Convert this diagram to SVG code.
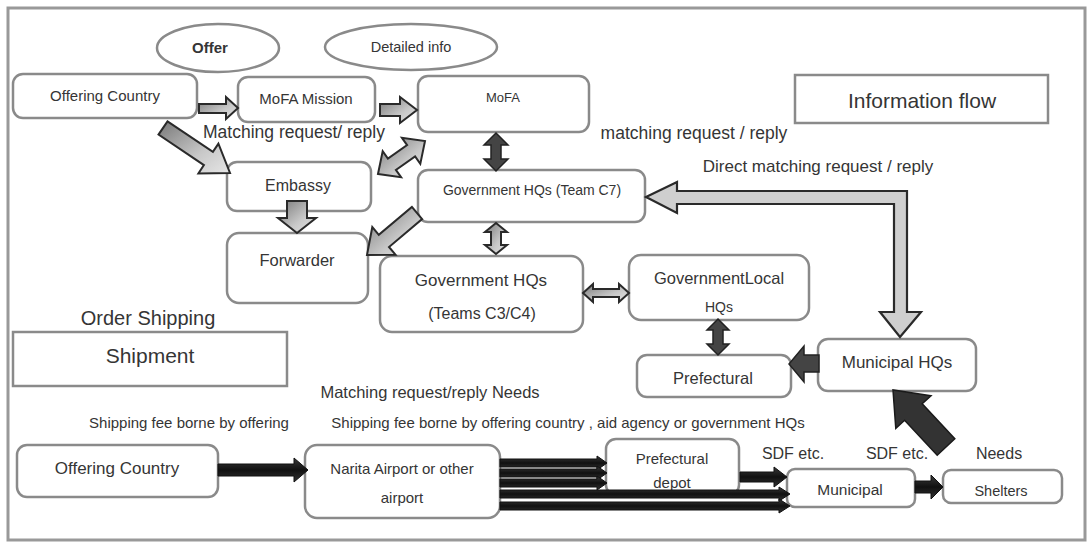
<svg xmlns="http://www.w3.org/2000/svg" width="1089" height="549" viewBox="0 0 1089 549">
<defs>
<linearGradient id="gA" x1="0" y1="0" x2="1" y2="1">
<stop offset="0" stop-color="#777"/>
<stop offset="0.6" stop-color="#c8c8c8"/>
<stop offset="1" stop-color="#e6e6e6"/>
</linearGradient>
<linearGradient id="gD" x1="0" y1="0" x2="0" y2="1">
<stop offset="0" stop-color="#3a3a3a"/>
<stop offset="0.5" stop-color="#111"/>
<stop offset="1" stop-color="#333"/>
</linearGradient>
<style>
.box{fill:#fff;stroke:#8a8a8a;stroke-width:2.5}
.t{font-family:"Liberation Sans",Arial,sans-serif;fill:#353535;text-anchor:middle;dominant-baseline:central}
.ga{fill:url(#gA);stroke:#2a2a2a;stroke-width:2;stroke-linejoin:miter}
.gl{fill:#cfcfcf;stroke:#2a2a2a;stroke-width:2.2}
.dk{fill:#444;stroke:#222;stroke-width:1.5}
.bk{fill:url(#gD);stroke:#111;stroke-width:1}
</style>
</defs>
<rect x="0" y="0" width="1089" height="549" fill="#fff"/>
<rect x="8" y="8" width="1077" height="532" fill="none" stroke="#999" stroke-width="3"/>

<g id="offer-ellipse"><ellipse cx="218" cy="48" rx="61" ry="24" fill="#fff" stroke="#8a8a8a" stroke-width="2.5"/><text class="t" x="210" y="47" font-size="15" font-weight="bold">Offer</text></g>
<g id="detailed-ellipse"><ellipse cx="411" cy="47" rx="86" ry="23" fill="#fff" stroke="#8a8a8a" stroke-width="2.5"/><text class="t" x="411" y="47" font-size="14.5">Detailed info</text></g>

<g id="offering-country"><rect class="box" x="13" y="74" width="184" height="44" rx="10"/><text class="t" x="105" y="95" font-size="15">Offering Country</text></g>
<g id="mofa-mission"><rect class="box" x="238" y="77" width="137" height="45" rx="10"/><text class="t" x="306" y="98" font-size="15">MoFA  Mission</text></g>
<g id="mofa"><rect class="box" x="418" y="76" width="171" height="56" rx="10"/><text class="t" x="503" y="97" font-size="13">MoFA</text></g>
<g id="information-flow"><rect class="box" x="795" y="75" width="253" height="48"/><text class="t" x="922" y="100" font-size="21">Information flow</text></g>
<g id="embassy"><rect class="box" x="227" y="162" width="144" height="49" rx="10"/><text class="t" x="298" y="185" font-size="16">Embassy</text></g>
<g id="forwarder"><rect class="box" x="227" y="233" width="141" height="70" rx="12"/><text class="t" x="297" y="260" font-size="16.5">Forwarder</text></g>
<g id="gov-hq-c7"><rect class="box" x="418" y="170" width="227" height="52" rx="10"/><text class="t" x="532" y="190" font-size="14">Government HQs (Team C7)</text></g>
<g id="gov-hq-c3c4"><rect class="box" x="380" y="256" width="203" height="76" rx="12"/><text class="t" x="481" y="280" font-size="17">Government HQs</text><text class="t" x="482" y="313" font-size="16">(Teams C3/C4)</text></g>
<g id="gov-local-hq"><rect class="box" x="629" y="255" width="180" height="65" rx="12"/><text class="t" x="719" y="278" font-size="16.5">GovernmentLocal</text><text class="t" x="719" y="307" font-size="14">HQs</text></g>
<g id="prefectural"><rect class="box" x="637" y="355" width="154" height="42" rx="10"/><text class="t" x="713" y="378" font-size="16.5">Prefectural</text></g>
<g id="municipal-hq"><rect class="box" x="818" y="339" width="158" height="52" rx="10"/><text class="t" x="897" y="362" font-size="17">Municipal HQs</text></g>
<g id="shipment"><rect class="box" x="13" y="332" width="274" height="54"/><text class="t" x="150" y="355" font-size="21">Shipment</text></g>
<g id="offering-country-2"><rect class="box" x="17" y="445" width="201" height="52" rx="10"/><text class="t" x="117" y="468" font-size="17">Offering  Country</text></g>
<g id="narita"><rect class="box" x="305" y="445" width="195" height="73" rx="12"/><text class="t" x="402" y="468" font-size="15">Narita Airport or other</text><text class="t" x="402" y="497" font-size="15">airport</text></g>
<g id="prefectural-depot"><rect class="box" x="606" y="439" width="133" height="56" rx="10"/><text class="t" x="672" y="458" font-size="15">Prefectural</text><text class="t" x="672" y="482" font-size="15">depot</text></g>
<g id="municipal"><rect class="box" x="787" y="469" width="128" height="38" rx="8"/><text class="t" x="850" y="489" font-size="15.5">Municipal</text></g>
<g id="shelters"><rect class="box" x="943" y="470" width="119" height="33" rx="8"/><text class="t" x="1001" y="491" font-size="14.5">Shelters</text></g>

<g id="labels">
<text class="t" x="294" y="132" font-size="17.5">Matching request/ reply</text>
<text class="t" x="694" y="133" font-size="17.5">matching request / reply</text>
<text class="t" x="818" y="166" font-size="17">Direct  matching request / reply</text>
<text class="t" x="148" y="318" font-size="20">Order  Shipping</text>
<text class="t" x="430" y="392" font-size="16.5">Matching request/reply Needs</text>
<text class="t" x="189" y="422" font-size="15">Shipping  fee borne  by offering</text>
<text class="t" x="568" y="422" font-size="15">Shipping fee borne by offering country , aid agency or government HQs</text>
<text class="t" x="793" y="453" font-size="16">SDF etc.</text>
<text class="t" x="897" y="453" font-size="16">SDF etc.</text>
<text class="t" x="999" y="453" font-size="16">Needs</text>
</g>

<g id="connectors">
<polygon class="ga" points="199,104 226,104 226,97 238,108 226,119 226,113 199,113"/>
<polygon class="ga" points="380,104 400,104 400,97 417,110 400,123 400,116 380,116"/>
<polygon class="ga" points="167.5,121.4 212.9,151.9 218.4,143.6 230,173 198.4,173.4 203.9,165.1 158.5,134.6"/>
<polygon class="ga" points="378,174 401.1,177.3 395.9,169.9 415.1,156.5 420.3,163.9 425,141 401.9,137.7 407.1,145.1 387.9,158.5 382.7,151.1"/>
<polygon class="ga" points="287,201 307,201 307,218 316,218 297,233 278,218 287,218"/>
<polygon class="dk" points="496,133 508,145 501,145 501,159 508,159 496,171 484,159 491,159 491,145 484,145"/>
<polygon class="ga" points="411.9,206.9 422.1,219.1 389,247 395.5,254.7 367,255 372.3,227.1 378.8,234.8"/>
<polygon class="ga" points="496,223 507,232 501,232 501,245 507,245 496,254 485,245 491,245 491,232 485,232"/>
<polygon class="ga" points="583,293 593,284 593,289 619,289 619,284 629,293 619,302 619,297 593,297 593,302"/>
<polygon class="dk" points="718,319 729,330 723,330 723,344 729,344 718,355 707,344 713,344 713,330 707,330"/>
<polygon class="dk" points="819,355 804,355 804,346 789,364 804,382 804,372 819,372"/>
<polygon class="gl" points="646,197 677,182 677,191 907,191 907,312 921,312 900,337 880,312 894,312 894,204 677,204 677,213"/>
<polygon fill="#333" stroke="#1a1a1a" stroke-width="1.5" points="937.2,455.2 954.8,438.8 922.2,403.8 931,395.7 893,390 895.8,428.3 904.6,420.2"/>
<polygon class="bk" points="218,464 294,464 294,458 308,470 294,482 294,476 218,476"/>
<polygon class="bk" points="500,459 597,459 597,456 607,463 597,470 597,467 500,467"/>
<polygon class="bk" points="500,469 597,469 597,466 607,473 597,480 597,477 500,477"/>
<polygon class="bk" points="500,479 597,479 597,476 607,483 597,490 597,487 500,487"/>
<polygon class="bk" points="500,490 779,490 779,487 790,494 779,501 779,498 500,498"/>
<polygon class="bk" points="500,502 779,502 779,499 790,506 779,513 779,510 500,510"/>
<polygon class="bk" points="740,472 774,472 774,467 787,477 774,487 774,482 740,482"/>
<polygon class="bk" points="915,481 931,481 931,475 943,487 931,499 931,493 915,493"/>
</g>
</svg>
